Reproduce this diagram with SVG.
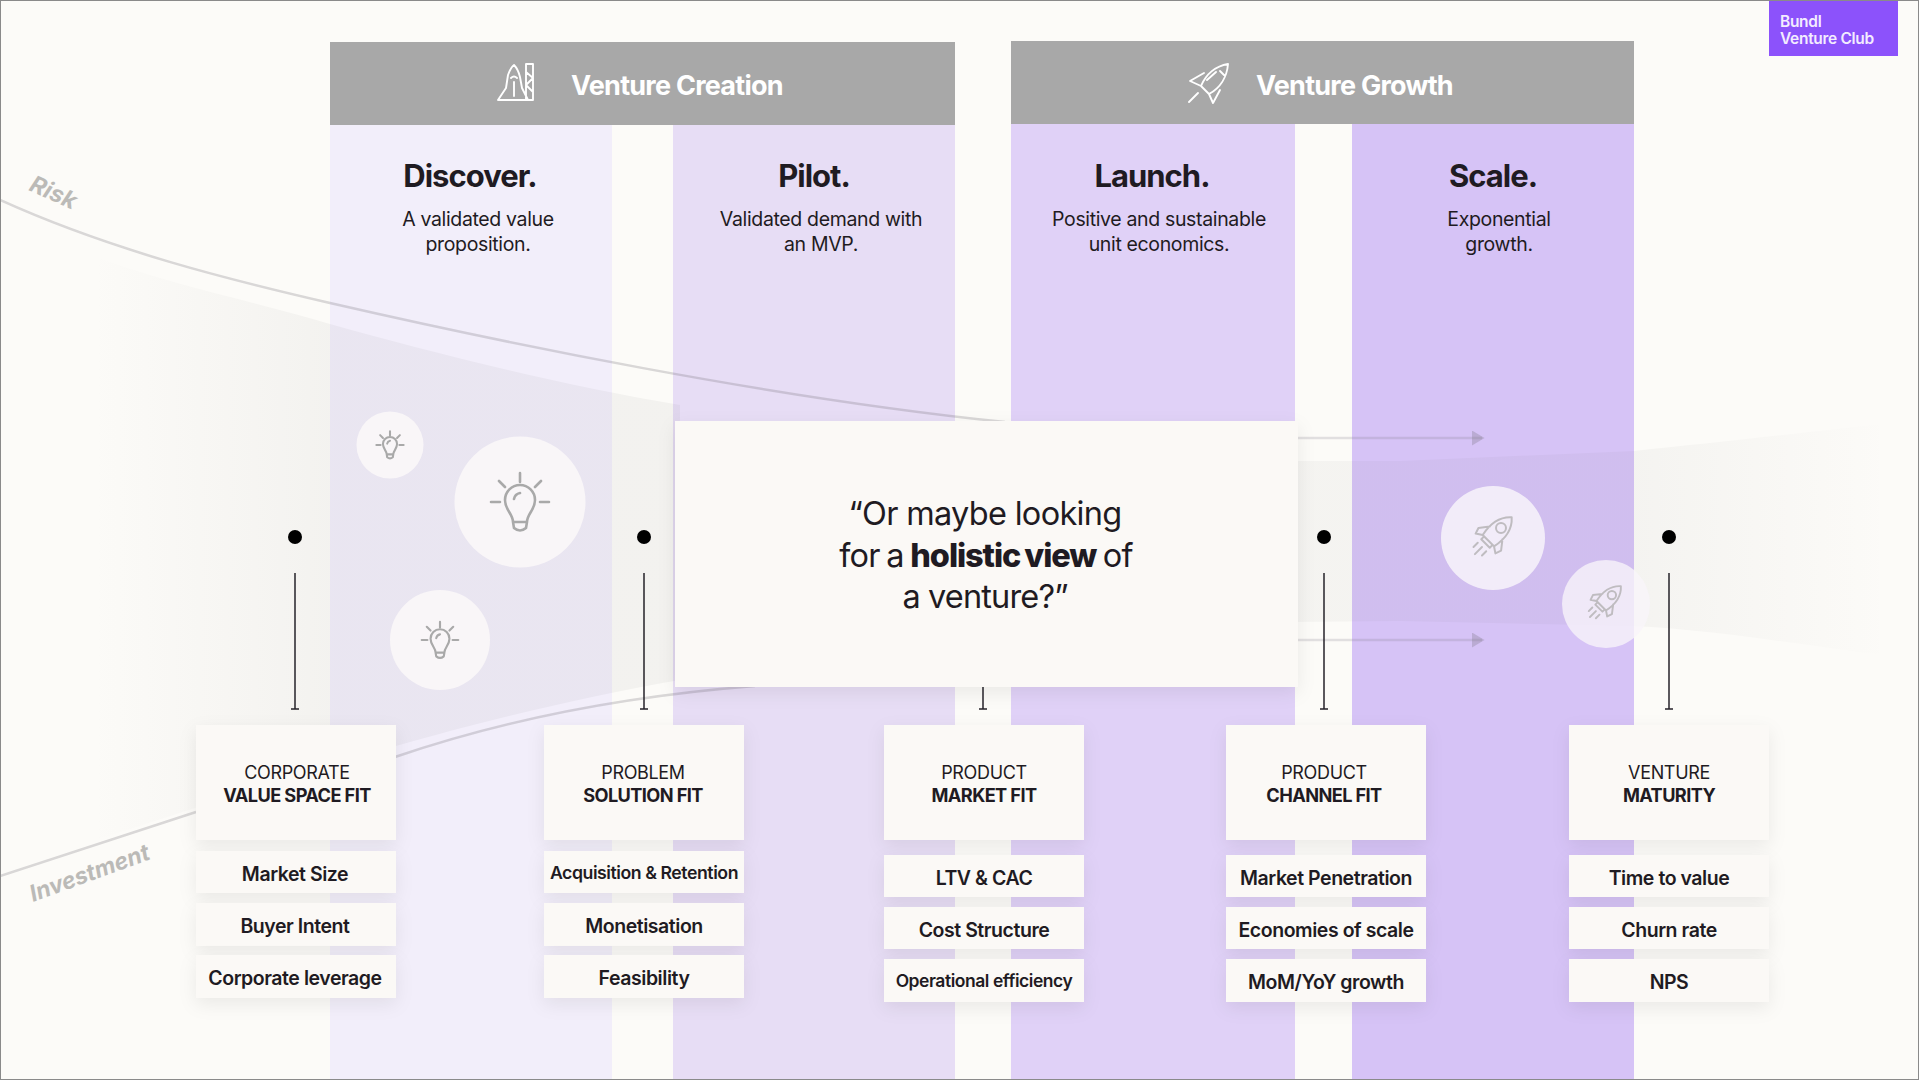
<svg xmlns="http://www.w3.org/2000/svg" width="1919" height="1080" viewBox="0 0 1919 1080">
<style>
text{font-family:Inter,"Liberation Sans",sans-serif;fill:#1f1b22;text-anchor:middle}
.hd{font-size:27px;font-weight:700;fill:#fff;text-anchor:start;letter-spacing:-.75px}
.tt{font-size:31px;font-weight:700;letter-spacing:-1px}
.sb{font-size:19.5px;letter-spacing:-.35px}
.q{font-size:32.5px;letter-spacing:-.7px}
.c1{font-size:18px;letter-spacing:-.35px}
.c2{font-size:18.2px;font-weight:700;letter-spacing:-.6px}
.it{font-size:19.5px;font-weight:600;letter-spacing:-.45px}
.card{fill:#fbf9f6;filter:url(#sh)}
.lab{font-size:23.5px;font-style:italic;font-weight:700;fill:#bbbab7;text-anchor:start}
.logo{font-size:15.5px;font-weight:600;fill:#f3ecff;text-anchor:start;letter-spacing:-.3px}
.curve{fill:none;stroke:#6e6a72;stroke-opacity:.25;stroke-width:2.5}
.arr{fill:none;stroke:#7a7580;stroke-opacity:.2;stroke-width:2.5}
.pin{stroke:#26232a;stroke-width:1.5;fill:none}
.ic{fill:none;stroke:#a9a9a9;stroke-width:2.6;stroke-linecap:round;stroke-linejoin:round}
.ri{fill:none;stroke:#bfbcc0;stroke-width:2;stroke-linecap:round;stroke-linejoin:round}
.wh{fill:none;stroke:#fff;stroke-width:1.9;stroke-linejoin:round;stroke-linecap:round}
</style>
<defs>
<filter id="sh" x="-20%" y="-40%" width="140%" height="190%"><feDropShadow dx="0" dy="6" stdDeviation="9" flood-color="#000" flood-opacity=".07"/></filter>
<linearGradient id="gl" gradientUnits="userSpaceOnUse" x1="90" x2="340" y1="0" y2="0"><stop offset="0" stop-color="#555" stop-opacity="0"/><stop offset="1" stop-color="#555" stop-opacity=".055"/></linearGradient>
<linearGradient id="gr" gradientUnits="userSpaceOnUse" x1="1640" x2="1890" y1="0" y2="0"><stop offset="0" stop-color="#555" stop-opacity=".045"/><stop offset="1" stop-color="#555" stop-opacity="0"/></linearGradient>
<marker id="ah" markerWidth="6" markerHeight="6" refX="4" refY="3" orient="auto"><path d="M0,0 L5,3 L0,6Z" fill="#7a7580" fill-opacity=".3"/></marker>
<g id="bulb">
<path d="M-7,20 C-7,12 -15,8 -15,-2 A15,15 0 0 1 15,-2 C15,8 7,12 7,20 Z M-7,20 L-6,26 Q0,31 6,26 L7,20 M-6,-3 Q-5,-8 0,-9 M0,-29 L0,-20 M-21,-21 L-15,-15 M21,-21 L15,-15 M-29,0 L-20,0 M29,0 L20,0"/>
</g>
<g id="rocket">
<path transform="rotate(45)" d="M0,-25 C9,-17 11,-6 8,8 L-8,8 C-11,-6 -9,-17 0,-25 Z M-9,-3 L-16,6 L-14,12 L-8,8 M9,-3 L16,6 L14,12 L8,8 M-6,8 L-6,12 L6,12 L6,8 M0,17 L0,27 M-6,17 L-6,23 M6,17 L6,23"/>
<circle cx="7" cy="-7" r="5"/>
</g>
</defs>
<rect id="bg" width="1919" height="1080" fill="#fcfbf8"/>
<g id="columns">
<rect x="330" y="125" width="282" height="955" fill="#f2eefa"/>
<rect x="673" y="125" width="282" height="955" fill="#e7ddf5"/>
<rect x="1011" y="124" width="284" height="956" fill="#e0d1f7"/>
<rect x="1352" y="124" width="282" height="956" fill="#d6c3f6"/>
</g>
<g id="bands">
<path d="M90,255 C170,285 250,300 330,324 C430,352 560,385 680,405 L680,680 C590,695 480,722 396,746 L195,808 L90,842Z" fill="url(#gl)"/>
<path d="M1290,461 L1400,461 L1634,451 C1720,442 1810,432 1919,420 L1919,660 C1820,648 1720,630 1634,626 L1400,621 L1290,622Z" fill="url(#gr)"/>
</g>
<g id="connectors">
<path class="curve" d="M0,200 C110,250 230,280 330,303 C500,342 770,398 1005,422"/>
<path class="curve" d="M395,757 C480,728 600,698 755,686"/>
<path class="curve" d="M0,876 L196,812"/>
<path class="arr" d="M1298,438 L1482,438" marker-end="url(#ah)"/>
<path class="arr" d="M1298,640 L1482,640" marker-end="url(#ah)"/>
</g>
<text class="lab" transform="translate(28,190) rotate(24)">Risk</text>
<text class="lab" transform="translate(33,902) rotate(-20)" style="font-size:23px">Investment</text>
<g id="headers">
<g id="venture-creation">
<rect x="330" y="42" width="625" height="83" fill="#a8a8a8"/>
<path class="wh" d="M498,100 L532,100 M513,100 L498,100 L506,88 L508,75 Q511,67 514,65 Q518,69 520,77 L522,88 L528,100 Z M526,64 L533,64 L533,100 L526,100 Z M526,72 L533,78 L526,85 L533,92 M511,78 Q514,75 517,78 M514,82 L514,96"/>
<text class="hd" x="571" y="95">Venture Creation</text>
</g>
<g id="venture-growth">
<rect x="1011" y="41" width="623" height="83" fill="#a8a8a8"/>
<path class="wh" d="M1228,64 C1216,66 1206,74 1201,86 L1209,94 C1220,88 1227,77 1228,64 Z M1201,86 L1190,81 L1204,73 M1209,94 L1213,103 L1220,90 M1198,93 L1189,102 M1207,80 L1216,72 M1220,71 L1224,75"/>
<text class="hd" x="1256" y="95">Venture Growth</text>
</g>
</g>
<g id="phases">
<g id="discover"><text class="tt" x="470" y="187">Discover.</text><text class="sb" x="478" y="225.5">A validated value</text><text class="sb" x="478" y="251">proposition.</text></g>
<g id="pilot"><text class="tt" x="814" y="187">Pilot.</text><text class="sb" x="821" y="225.5">Validated demand with</text><text class="sb" x="821" y="251">an MVP.</text></g>
<g id="launch"><text class="tt" x="1152" y="187">Launch.</text><text class="sb" x="1159" y="225.5">Positive and sustainable</text><text class="sb" x="1159" y="251">unit economics.</text></g>
<g id="scale"><text class="tt" x="1493" y="187">Scale.</text><text class="sb" x="1499" y="225.5">Exponential</text><text class="sb" x="1499" y="251">growth.</text></g>
</g>
<g id="idea-circles">
<circle cx="390" cy="445" r="33.5" fill="#f9f6f8"/><use href="#bulb" class="ic" transform="translate(390,445) scale(.47)" style="stroke-width:4.4"/>
<circle cx="520" cy="502" r="65.5" fill="#f9f6f8"/><use href="#bulb" class="ic" transform="translate(520,502)"/>
<circle cx="440" cy="640" r="50" fill="#f9f6f8"/><use href="#bulb" class="ic" transform="translate(440,640) scale(.63)" style="stroke-width:3.4"/>
</g>
<g id="rocket-circles">
<circle cx="1493" cy="538" r="52" fill="#f8f5fa" fill-opacity=".85"/><use href="#rocket" class="ri" transform="translate(1494,535)"/>
<circle cx="1606" cy="604" r="44" fill="#f8f5fa" fill-opacity=".78"/><use href="#rocket" class="ri" transform="translate(1606,601) scale(.84)" style="stroke-width:2.3"/>
</g>
<g id="pins">
<circle cx="295" cy="537" r="7"/><path class="pin" d="M295,573 V709 M291,709 H299"/>
<circle cx="644" cy="537" r="7"/><path class="pin" d="M644,573 V709 M640,709 H648"/>
<circle cx="1324" cy="537" r="7"/><path class="pin" d="M1324,573 V709 M1320,709 H1328"/>
<circle cx="1669" cy="537" r="7"/><path class="pin" d="M1669,573 V709 M1665,709 H1673"/>
<path class="pin" d="M983,687 V709 M979,709 H987"/>
</g>
<g id="quote">
<rect x="675" y="421" width="623" height="266" fill="#fbf9f6" filter="url(#sh)"/>
<text class="q" x="985" y="525">“Or maybe looking</text>
<text class="q" x="986" y="567" word-spacing="-2">for a <tspan font-weight="800" letter-spacing="-1.1">holistic view</tspan> of</text>
<text class="q" x="985" y="608" style="letter-spacing:-.85px">a venture?”</text>
</g>
<g id="logo">
<rect x="1769" y="0" width="129" height="56" fill="#8c52fb"/>
<text class="logo" x="1780" y="27">Bundl</text>
<text class="logo" x="1780" y="44">Venture Club</text>
</g>
<g id="fit-corporate">
<rect class="card" x="196" y="725" width="200" height="115"/><text class="c1" x="297" y="778.5">CORPORATE</text><text class="c2" x="297" y="801.5">VALUE SPACE FIT</text>
<rect class="card" x="196" y="851" width="200" height="42"/><text class="it" x="295" y="881">Market Size</text>
<rect class="card" x="196" y="903" width="200" height="43"/><text class="it" x="295" y="933">Buyer Intent</text>
<rect class="card" x="196" y="955" width="200" height="43"/><text class="it" x="295" y="985">Corporate leverage</text>
</g>
<g id="fit-problem">
<rect class="card" x="544" y="725" width="200" height="115"/><text class="c1" x="643" y="778.5">PROBLEM</text><text class="c2" x="643" y="801.5">SOLUTION FIT</text>
<rect class="card" x="544" y="851" width="200" height="42"/><text class="it" x="644" y="879" style="font-size:17.7px">Acquisition &amp; Retention</text>
<rect class="card" x="544" y="903" width="200" height="43"/><text class="it" x="644" y="933">Monetisation</text>
<rect class="card" x="544" y="955" width="200" height="43"/><text class="it" x="644" y="985">Feasibility</text>
</g>
<g id="fit-market">
<rect class="card" x="884" y="725" width="200" height="115"/><text class="c1" x="984" y="778.5">PRODUCT</text><text class="c2" x="984" y="801.5">MARKET FIT</text>
<rect class="card" x="884" y="855" width="200" height="42"/><text class="it" x="984" y="885">LTV &amp; CAC</text>
<rect class="card" x="884" y="907" width="200" height="42"/><text class="it" x="984" y="937">Cost Structure</text>
<rect class="card" x="884" y="959" width="200" height="43"/><text class="it" x="984" y="987" style="font-size:17.5px">Operational efficiency</text>
</g>
<g id="fit-channel">
<rect class="card" x="1226" y="725" width="200" height="115"/><text class="c1" x="1324" y="778.5">PRODUCT</text><text class="c2" x="1324" y="801.5">CHANNEL FIT</text>
<rect class="card" x="1226" y="855" width="200" height="42"/><text class="it" x="1326" y="885">Market Penetration</text>
<rect class="card" x="1226" y="907" width="200" height="42"/><text class="it" x="1326" y="937">Economies of scale</text>
<rect class="card" x="1226" y="959" width="200" height="43"/><text class="it" x="1326" y="989">MoM/YoY growth</text>
</g>
<g id="fit-maturity">
<rect class="card" x="1569" y="725" width="200" height="115"/><text class="c1" x="1669" y="778.5">VENTURE</text><text class="c2" x="1669" y="801.5">MATURITY</text>
<rect class="card" x="1569" y="855" width="200" height="42"/><text class="it" x="1669" y="885">Time to value</text>
<rect class="card" x="1569" y="907" width="200" height="42"/><text class="it" x="1669" y="937">Churn rate</text>
<rect class="card" x="1569" y="959" width="200" height="43"/><text class="it" x="1669" y="989">NPS</text>
</g>
<rect id="frame" x=".5" y=".5" width="1918" height="1079" fill="none" stroke="#8a8a8a"/>
</svg>
